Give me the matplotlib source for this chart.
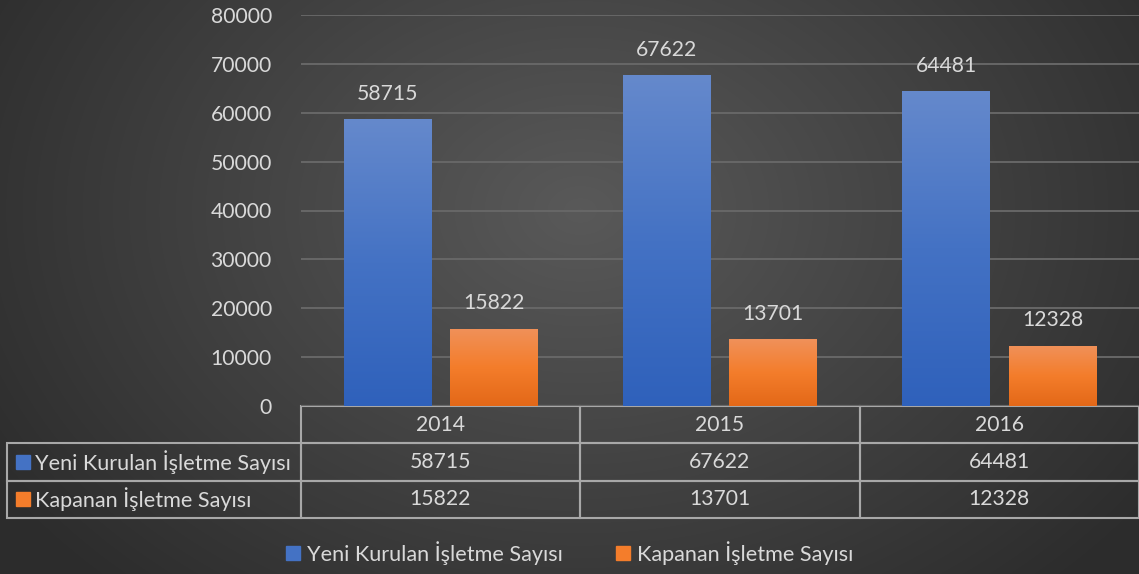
import matplotlib
matplotlib.use("Agg")
import matplotlib.pyplot as plt
import numpy as np
from matplotlib.colors import LinearSegmentedColormap
from matplotlib.lines import Line2D

plt.rcParams["font.family"] = ["Lato", "DejaVu Sans"]

# --- データ ---
years = ["2014", "2015", "2016"]
series_names = ["Yeni Kurulan İşletme Sayısı", "Kapanan İşletme Sayısı"]
yeni = [58715, 67622, 64481]
kapanan = [15822, 13701, 12328]
y_ticks = [0, 10000, 20000, 30000, 40000, 50000, 60000, 70000, 80000]

TEXT = "#d9d9d9"
GRID = "#676767"
TABLE_LINE = "#a8a8a8"
BLUE = ["#2f61bb", "#4472c4", "#6589cc"]     # 下 -> 上
ORANGE = ["#e36818", "#f47d2b", "#f0915a"]
FS_NUM = 15.2
FS_LABEL = 15.6

fig = plt.figure(figsize=(11.39, 5.74), dpi=100)

# 背景（放射状グラデーション）
bg = fig.add_axes([0, 0, 1, 1], zorder=-10)
yy, xx = np.mgrid[0:574, 0:1139]
r = np.sqrt(((xx - 580) / 700.0) ** 2 + ((yy - 210) / 520.0) ** 2)
r = np.clip(r, 0, 1)
bg_cmap = LinearSegmentedColormap.from_list("bg", ["#595959", "#2c2c2c"])
bg.imshow(r, cmap=bg_cmap, aspect="auto", vmin=0, vmax=1)
bg.axis("off")

ax = fig.add_axes([301 / 1139, 1 - 406 / 574, 1 - 301 / 1139, 391 / 574])
ax.set_facecolor("none")

x = np.arange(len(years))
width = 0.314
offset = 0.19

def gradient_bars(bars, colors):
    cmap = LinearSegmentedColormap.from_list("g", colors)
    grad = np.linspace(0, 1, 256).reshape(-1, 1)
    for b in bars:
        b.set_facecolor("none")
        b.set_edgecolor("none")
        x0, y0 = b.get_x(), b.get_y()
        im = ax.imshow(grad, cmap=cmap, origin="lower", aspect="auto",
                       extent=[x0, x0 + b.get_width(), y0, y0 + b.get_height()],
                       zorder=3)
        im.set_clip_path(b)

bars1 = ax.bar(x - offset, yeni, width, zorder=3)
bars2 = ax.bar(x + offset, kapanan, width, zorder=3)
gradient_bars(bars1, BLUE)
gradient_bars(bars2, ORANGE)

ax.bar_label(bars1, labels=[str(v) for v in yeni], padding=11, color=TEXT, fontsize=FS_NUM)
ax.bar_label(bars2, labels=[str(v) for v in kapanan], padding=11, color=TEXT, fontsize=FS_NUM)

ax.set_xlim(-0.5, len(years) - 0.5)
ax.set_ylim(0, 80000)
ax.set_yticks(y_ticks)
ax.set_yticklabels([str(t) for t in y_ticks], fontsize=FS_NUM, color=TEXT)
ax.tick_params(axis="y", length=0, pad=21)
ax.set_xticks([])
ax.grid(True, axis="y", color=GRID, linewidth=1.4)
ax.set_axisbelow(True)
for s in ax.spines.values():
    s.set_visible(False)

# データテーブル
cell_text = [[""] + years,
             [series_names[0]] + [str(v) for v in yeni],
             [series_names[1]] + [str(v) for v in kapanan]]
lw = 294 / 839
h = 112 / 391
tbl = ax.table(cellText=cell_text, cellLoc="center",
               colWidths=[294, 280, 280, 280],
               bbox=[-lw, -h, 1 + lw, h])
tbl.auto_set_font_size(False)
for (row, col), cell in tbl.get_celld().items():
    cell.set_facecolor("none")
    cell.set_edgecolor(TABLE_LINE)
    cell.set_linewidth(1.5)
    cell.get_text().set_color(TEXT)
    cell.get_text().set_fontsize(FS_NUM)
    if col == 0:
        cell.get_text().set_ha("left")
        cell.get_text().set_fontsize(FS_LABEL)
        cell._loc = "left"
        cell.PAD = 0.095
    if row == 0 and col == 0:
        cell.visible_edges = ""

# 行ラベルの色見本
for i, c in enumerate([BLUE[1], ORANGE[1]]):
    yc = -h + h * (2 - i - 0.5) / 3
    ax.plot([-lw + 15.5 / 839], [yc], marker="s", markersize=10.5, color=c,
            linestyle="none", transform=ax.transAxes, clip_on=False)

# 凡例
handles = [Line2D([], [], marker="s", markersize=10, linestyle="none", color=BLUE[1]),
           Line2D([], [], marker="s", markersize=10, linestyle="none", color=ORANGE[1])]
fig.legend(handles, series_names, loc="center", bbox_to_anchor=(0.5, 1 - 553 / 574),
           ncol=2, frameon=False, fontsize=FS_LABEL, labelcolor=TEXT,
           handlelength=0.7, handletextpad=0.3, columnspacing=2.4)

fig.savefig("out.png", dpi=100)
